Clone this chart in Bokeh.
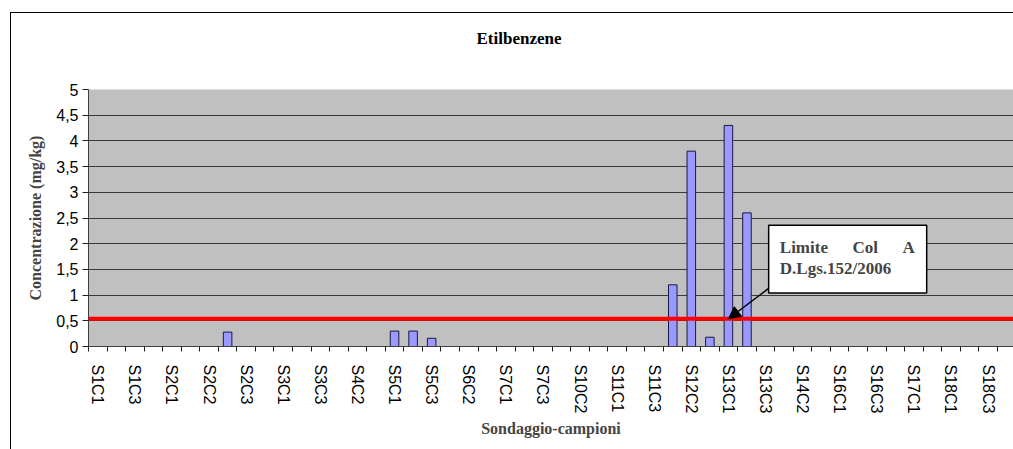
from bokeh.plotting import figure
from bokeh.models import (Range1d, FixedTicker, CustomJSTickFormatter, Span, BoxAnnotation,
                          Label, Arrow, NormalHead, ColumnDataSource)
from bokeh.embed import file_html
from bokeh.resources import INLINE

# ---- data ----
categories = [
    "S1C1", "S1C2", "S1C3", "S1C4", "S2C1", "S2C1bis", "S2C2", "S2C2bis", "S2C3", "S2C4",
    "S3C1", "S3C2", "S3C3", "S4C1", "S4C2", "S4C3", "S5C1", "S5C2", "S5C3", "S6C1",
    "S6C2", "S6C3", "S7C1", "S7C2", "S7C3", "S10C1", "S10C2", "S10C3", "S11C1", "S11C2",
    "S11C3", "S12C1", "S12C2", "S12C3", "S13C1", "S13C2", "S13C3", "S14C1", "S14C2", "S14C3",
    "S16C1", "S16C2", "S16C3", "S16C4", "S17C1", "S17C2", "S18C1", "S18C2", "S18C3", "S18C4",
]
values = [
    0, 0, 0, 0, 0, 0, 0, 0.28, 0, 0,
    0, 0, 0, 0, 0, 0, 0.30, 0.30, 0.16, 0,
    0, 0, 0, 0, 0, 0, 0, 0, 0, 0,
    0, 1.2, 3.8, 0.18, 4.3, 2.6, 0, 0, 0, 0,
    0, 0, 0, 0, 0, 0, 0, 0, 0, 0,
]
limit_value = 0.54
y_ticks = [0, 0.5, 1, 1.5, 2, 2.5, 3, 3.5, 4, 4.5, 5]
title_text = "Etilbenzene"
y_title = "Concentrazione (mg/kg)"
x_title = "Sondaggio-campioni"
note_line1 = ["Limite", "Col", "A"]
note_line2 = "D.Lgs.152/2006"

n = len(categories)
xs = [i + 0.5 for i in range(n)]
src = ColumnDataSource(dict(x=xs, top=values, name=categories))

SERIF = "Liberation Serif"
SANS = "Liberation Sans"

p = figure(width=1013, height=449, output_backend="svg", toolbar_location=None,
           x_range=Range1d(0, 49.87), y_range=Range1d(0, 5),
           min_border_left=88, min_border_right=0, min_border_top=89, min_border_bottom=103)
p.background_fill_color = "#C0C0C0"
p.border_fill_color = None
# outer chart border (left and top edges), drawn behind the transparent canvas border
p.styles = {
    "width": "1013px",
    "min-width": "1013px",
    "background-color": "white",
    "background-image": "linear-gradient(#000, #000), linear-gradient(#000, #000)",
    "background-size": "1px 100%, 100% 1px",
    "background-position": "10px 12px, 10px 12px",
    "background-repeat": "no-repeat",
}
p.outline_line_color = None

# title: two blank lines below it lift it away from the plot area
p.title.text = title_text + "\n \n "
p.title.align = "left"
p.title.offset = 388
p.title.standoff = 8
p.title.text_font = SERIF
p.title.text_font_style = "bold"
p.title.text_font_size = "17px"
p.title.text_color = "black"

p.vbar(x="x", top="top", width=0.46, bottom=0, source=src,
       fill_color="#9999FF", line_color="#1a1a40", line_width=1)

# grid
p.xgrid.visible = False
p.ygrid.ticker = FixedTicker(ticks=y_ticks)
p.ygrid.grid_line_color = "#3a3a3a"
p.ygrid.grid_line_width = 1

# y axis
p.yaxis.ticker = FixedTicker(ticks=y_ticks)
p.yaxis.formatter = CustomJSTickFormatter(code="return tick.toString().replace('.', ',');")
p.yaxis.major_tick_in = 0
p.yaxis.major_tick_out = 6
p.yaxis.minor_tick_out = 0
p.yaxis.minor_tick_in = 0
p.yaxis.axis_line_color = "#404040"
p.yaxis.major_tick_line_color = "#202020"
p.yaxis.major_label_text_font = SANS
p.yaxis.major_label_text_font_size = "16px"
p.yaxis.major_label_text_color = "black"
p.yaxis.major_label_standoff = 4
p.yaxis.axis_label = y_title
p.yaxis.axis_label_text_font = SERIF
p.yaxis.axis_label_text_font_style = "bold"
p.yaxis.axis_label_text_font_size = "16px"
p.yaxis.axis_label_standoff = 9

# x axis
label_ticks = [xs[i] for i in range(0, n, 2)]
boundaries = list(range(0, n + 1))
p.xaxis.ticker = FixedTicker(ticks=label_ticks, minor_ticks=boundaries)
p.xaxis.formatter = CustomJSTickFormatter(args=dict(names=categories),
                                          code="return names[Math.floor(tick)];")
p.xaxis.major_tick_in = 0
p.xaxis.major_tick_out = 0
p.xaxis.minor_tick_in = 0
p.xaxis.minor_tick_out = 5
p.xaxis.minor_tick_line_color = "#202020"
p.xaxis.axis_line_color = "#404040"
p.xaxis.major_label_orientation = "vertical"
p.xaxis.major_label_text_font = SANS
p.xaxis.major_label_text_font_size = "16px"
p.xaxis.major_label_text_color = "black"
p.xaxis.major_label_standoff = 13
p.xaxis.axis_label = x_title
p.xaxis.axis_label_text_font = SERIF
p.xaxis.axis_label_text_font_style = "bold"
p.xaxis.axis_label_text_font_size = "16px"
p.xaxis.axis_label_standoff = 4

# limit line
p.add_layout(Span(location=limit_value, dimension="width", line_color="#FF0000", line_width=4))

# annotation box + arrow
p.add_layout(BoxAnnotation(left=36.67, right=45.19, bottom=1.04, top=2.36,
                           fill_color="white", fill_alpha=1, line_color="black",
                           line_width=1.5, line_alpha=1, level="overlay"))
p.add_layout(Arrow(x_start=36.67, y_start=1.13, x_end=34.5, y_end=limit_value,
                   line_color="black", line_width=1.5,
                   end=NormalHead(size=12, fill_color="black", line_color="black")))
for word, xw in zip(note_line1, [37.27, 41.19, 43.88]):
    p.add_layout(Label(x=xw, y=1.92, text=word, text_font=SERIF, text_font_style="bold",
                       text_font_size="17px", text_baseline="alphabetic", level="overlay"))
p.add_layout(Label(x=37.27, y=1.52, text=note_line2, text_font=SERIF, text_font_style="bold",
                   text_font_size="17px", text_baseline="alphabetic", level="overlay"))

open("out.html", "w").write(file_html(p, INLINE))
